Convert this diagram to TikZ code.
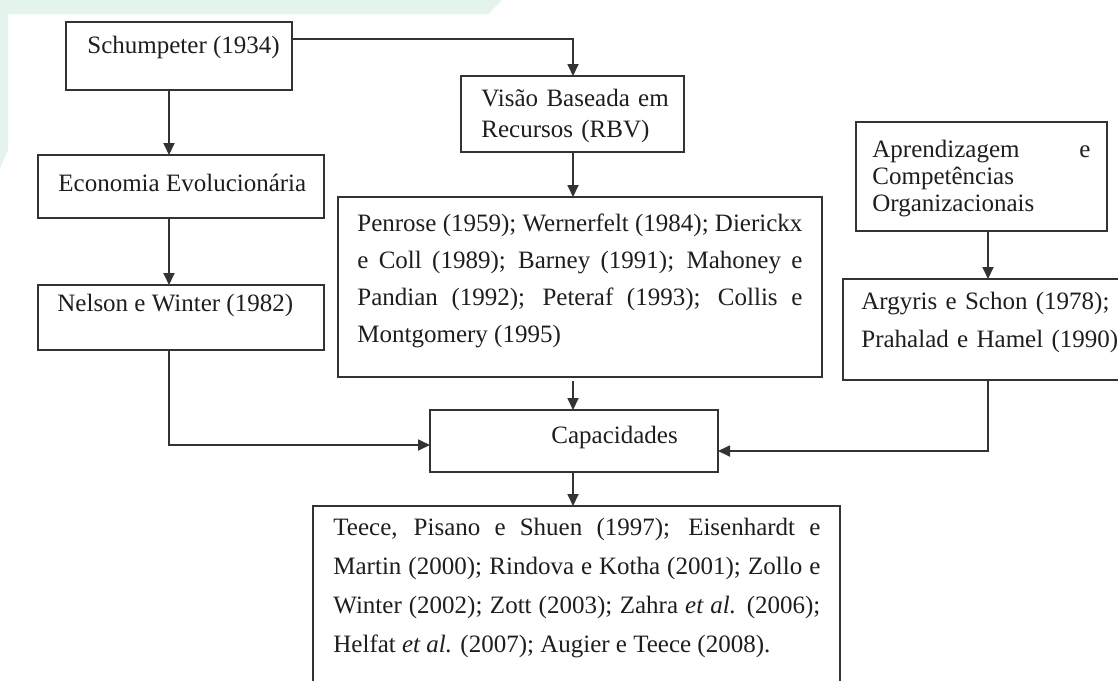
\documentclass[tikz,border=0pt]{standalone}
\usepackage{fontspec}
\setmainfont{Liberation Serif}
\usetikzlibrary{arrows.meta}
\definecolor{mint}{HTML}{E4F4ED}
\definecolor{linec}{HTML}{333333}
\definecolor{txtc}{HTML}{1E1E1E}
\hyphenpenalty=10000
\exhyphenpenalty=10000
\begin{document}
\begin{tikzpicture}[x=0.5pt,y=-0.5pt,
  box/.style={draw=linec, line width=0.9pt, anchor=north west, inner sep=0pt, outer sep=0pt},
  txt/.style={anchor=base west, inner sep=0pt, text=txtc, font=\fontsize{12.5}{15}\selectfont},
  jtxt/.style={txt, align=justify, text width=#1},
  ltxt/.style={txt, align=left, text width=#1},
  arr/.style={draw=linec, line width=0.9pt, -{Triangle[length=6pt,width=5.5pt]}}]
\useasboundingbox (0,0) rectangle (1118,680);
\clip (0,0) rectangle (1118,680);
\fill[white] (0,0) rectangle (1118,680);
\fill[mint] (0,0) -- (502,0) -- (488,14) -- (8,14) -- (8,150) -- (0,168) -- cycle;

% boxes
\node[box, minimum width=113pt, minimum height=34pt] (schu) at (66,22) {};
\node[box, minimum width=143pt, minimum height=31.5pt] (econ) at (38,155) {};
\node[box, minimum width=143pt, minimum height=32.5pt] (nelson) at (38,285) {};
\node[box, minimum width=111.5pt, minimum height=38pt] (rbv) at (461,76) {};
\node[box, minimum width=242pt, minimum height=90pt] (pen) at (338,197) {};
\node[box, minimum width=125.5pt, minimum height=54.5pt] (aprend) at (856,122) {};
\node[box, minimum width=142.5pt, minimum height=50.5pt] (argy) at (843,279) {};
\node[box, minimum width=144pt, minimum height=31pt] (cap) at (430,410) {};
\node[box, minimum width=263.5pt, minimum height=120pt] (teece) at (313,506) {};

% texts
\node[txt] (schu-t) at (87,54) {Schumpeter (1934)};
\node[txt] (econ-t) at (58,191) {Economia Evolucionária};
\node[txt] (nelson-t) at (57,311) {Nelson e Winter (1982)};
\node[ltxt=105pt, font=\fontsize{12.5}{15.5}\selectfont] (rbv-t) at (481,106) {Visão Baseada em\\Recursos (RBV)};
\node[jtxt=222.5pt, font=\fontsize{12.5}{18.5}\selectfont] (pen-t) at (357,231) {Penrose (1959); Wernerfelt (1984); Dierickx\linebreak e Coll (1989); Barney (1991); Mahoney e\linebreak Pandian (1992); Peteraf (1993); Collis e\linebreak Montgomery (1995)};
\node[jtxt=109pt, font=\fontsize{12.5}{13.5}\selectfont] (aprend-t) at (872,157) {Aprendizagem e\linebreak Competências\linebreak Organizacionais};
\node[ltxt=140pt, font=\fontsize{12.5}{19}\selectfont] (argy-t) at (861,309) {Argyris e Schon (1978);\\Prahalad e Hamel (1990)};
\node[txt] (cap-t) at (551,443) {Capacidades};
\node[jtxt=243.5pt, font=\fontsize{12.5}{19.5}\selectfont] (teece-t) at (333,535) {Teece, Pisano e Shuen (1997); Eisenhardt e\linebreak Martin (2000); Rindova e Kotha (2001); Zollo e\linebreak Winter (2002); Zott (2003); Zahra \textit{et al.} (2006);\linebreak Helfat \textit{et al.} (2007); Augier e Teece (2008).};

% helper coordinates
\coordinate (lx) at (169,0);
\coordinate (mx) at (573,0);
\coordinate (rx) at (988,0);
\coordinate (ty) at (0,39);
\coordinate (ly) at (0,445);
\coordinate (ry) at (0,451);

% connectors
\draw[arr] (schu.east |- ty) -| (rbv.north -| mx);
\draw[arr] (schu.south -| lx) -- (econ.north -| lx);
\draw[arr] (econ.south -| lx) -- (nelson.north -| lx);
\draw[arr] (nelson.south -| lx) |- (cap.west |- ly);
\draw[arr] (rbv.south -| mx) -- (pen.north -| mx);
\draw[arr, shorten <=2pt] (pen.south -| mx) -- (cap.north -| mx);
\draw[arr] (cap.south -| mx) -- (teece.north -| mx);
\draw[arr] (aprend.south -| rx) -- (argy.north -| rx);
\draw[arr] (argy.south -| rx) |- (cap.east |- ry);
\end{tikzpicture}
\end{document}
